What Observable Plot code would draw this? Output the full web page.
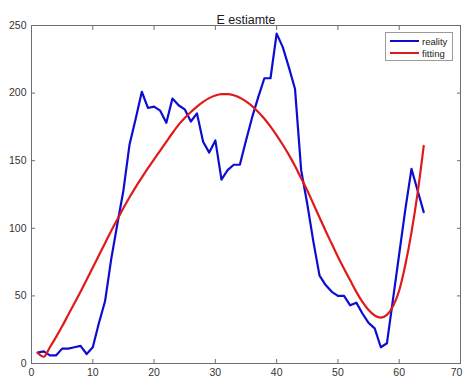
<!DOCTYPE html>
<html>
<head>
<meta charset="utf-8">
<script src="https://cdn.jsdelivr.net/npm/d3@7"></script>
<script src="https://cdn.jsdelivr.net/npm/@observablehq/plot@0.6"></script>
<style>
  html, body { margin: 0; padding: 0; background: #fff; }
  #wrap { position: relative; width: 463px; height: 380px; font-family: "Liberation Sans", Arial, Helvetica, sans-serif; }
  #legend { position: absolute; left: 385px; top: 32px; width: 68px; height: 29px; border: 1px solid #9a9a9a; background: #fff; box-sizing: border-box; }
  .row { position: absolute; left: 4px; height: 12px; display: flex; align-items: center; font-size: 9.5px; color: #222; }
  .sw { width: 29px; height: 2px; margin-right: 3px; }
</style>
</head>
<body>
<div id="wrap"></div>
<script>
const title = "E estiamte";
const seriesNames = ["reality", "fitting"];
const seriesColors = ["#0d0dd2", "#e01a1a"];
const xTicks = [0, 10, 20, 30, 40, 50, 60];
const xLastTick = [70];
const yTicks = [0, 50, 100, 150, 200, 250];
const day = [1,2,3,4,5,6,7,8,9,10,11,12,13,14,15,16,17,18,19,20,21,22,23,24,25,26,27,28,29,30,31,32,33,34,35,36,37,38,39,40,41,42,43,44,45,46,47,48,49,50,51,52,53,54,55,56,57,58,59,60,61,62,63,64];
const reality = [8,9,6,6,11,11,12,13,7,12,30,46,77,103,128,162,181,201,189,190,187,178,196,191,188,179,185,164,156,165,136,143,147,147,165,182,197,211,211,244,234,219,203,143,118,90,65,58,53,50,50,43,45,37,30,26,12,15,48,81,114,144,128,112];
const fitting = [8,5,12,19.5,27.5,36,44.5,53,62,71,80,89,98,106.5,115,123,130.5,137.5,144.5,151,157.5,164,170.5,176.5,181.5,186,190,193.5,196.3,198.2,199.2,199.3,198.4,196.6,193.9,190.4,186,181,175.2,168.8,161.8,154.3,146,137,128,118,108,98,88.5,79,70,61.5,53,45.5,39.5,35.5,34,36,42.5,54,73,97,126,161];

const realityRows = day.map((d, i) => ({day: d, value: reality[i]}));
const fittingRows = day.map((d, i) => ({day: d, value: fitting[i]}));

const axisColor = "#6e6e6e";
const allTicks = xTicks.concat(xLastTick);
const plot = Plot.plot({
  width: 463,
  height: 380,
  marginLeft: 31,
  marginRight: 3,
  marginTop: 25,
  marginBottom: 17,
  style: {fontFamily: "'Liberation Sans', Arial, Helvetica, sans-serif", fontSize: "10.5px", color: "#333", background: "#fff"},
  x: {domain: [0, 70]},
  y: {domain: [0, 250]},
  marks: [
    Plot.line(realityRows, {x: "day", y: "value", stroke: seriesColors[0], strokeWidth: 2.2, curve: "linear"}),
    Plot.line(fittingRows, {x: "day", y: "value", stroke: seriesColors[1], strokeWidth: 2.2, curve: "monotone-x"}),
    Plot.frame({stroke: axisColor, strokeWidth: 1}),
    Plot.axisX({anchor: "bottom", ticks: xTicks, tickSize: 0, tickPadding: 5, label: null, fill: "#333", fontSize: 10.5}),
    Plot.axisX({anchor: "bottom", ticks: xLastTick, tickSize: 0, tickPadding: 5, label: null, fill: "#333", fontSize: 10.5, dx: -4}),
    Plot.axisX({anchor: "bottom", ticks: allTicks, tickSize: -4, text: null, label: null, stroke: axisColor}),
    Plot.axisX({anchor: "top", ticks: allTicks, tickSize: -4, text: null, label: null, stroke: axisColor}),
    Plot.axisY({anchor: "left", ticks: yTicks, tickSize: 0, tickPadding: 5, label: null, fill: "#333", fontSize: 10.5}),
    Plot.axisY({anchor: "left", ticks: yTicks, tickSize: -4, text: null, label: null, stroke: axisColor}),
    Plot.axisY({anchor: "right", ticks: yTicks, tickSize: -4, text: null, label: null, stroke: axisColor}),
    Plot.text([title], {text: d => d, frameAnchor: "top", dy: -10, fontSize: 12.5, fill: "#1a1a1a"})
  ]
});

const wrap = document.getElementById("wrap");
wrap.appendChild(plot);

const legend = document.createElement("div");
legend.id = "legend";
seriesNames.forEach((name, i) => {
  const row = document.createElement("div");
  row.className = "row";
  row.style.top = (i === 0 ? 2 : 14) + "px";
  const sw = document.createElement("div");
  sw.className = "sw";
  sw.style.background = seriesColors[i];
  const label = document.createElement("span");
  label.textContent = name;
  row.appendChild(sw);
  row.appendChild(label);
  legend.appendChild(row);
});
wrap.appendChild(legend);
</script>
</body>
</html>
